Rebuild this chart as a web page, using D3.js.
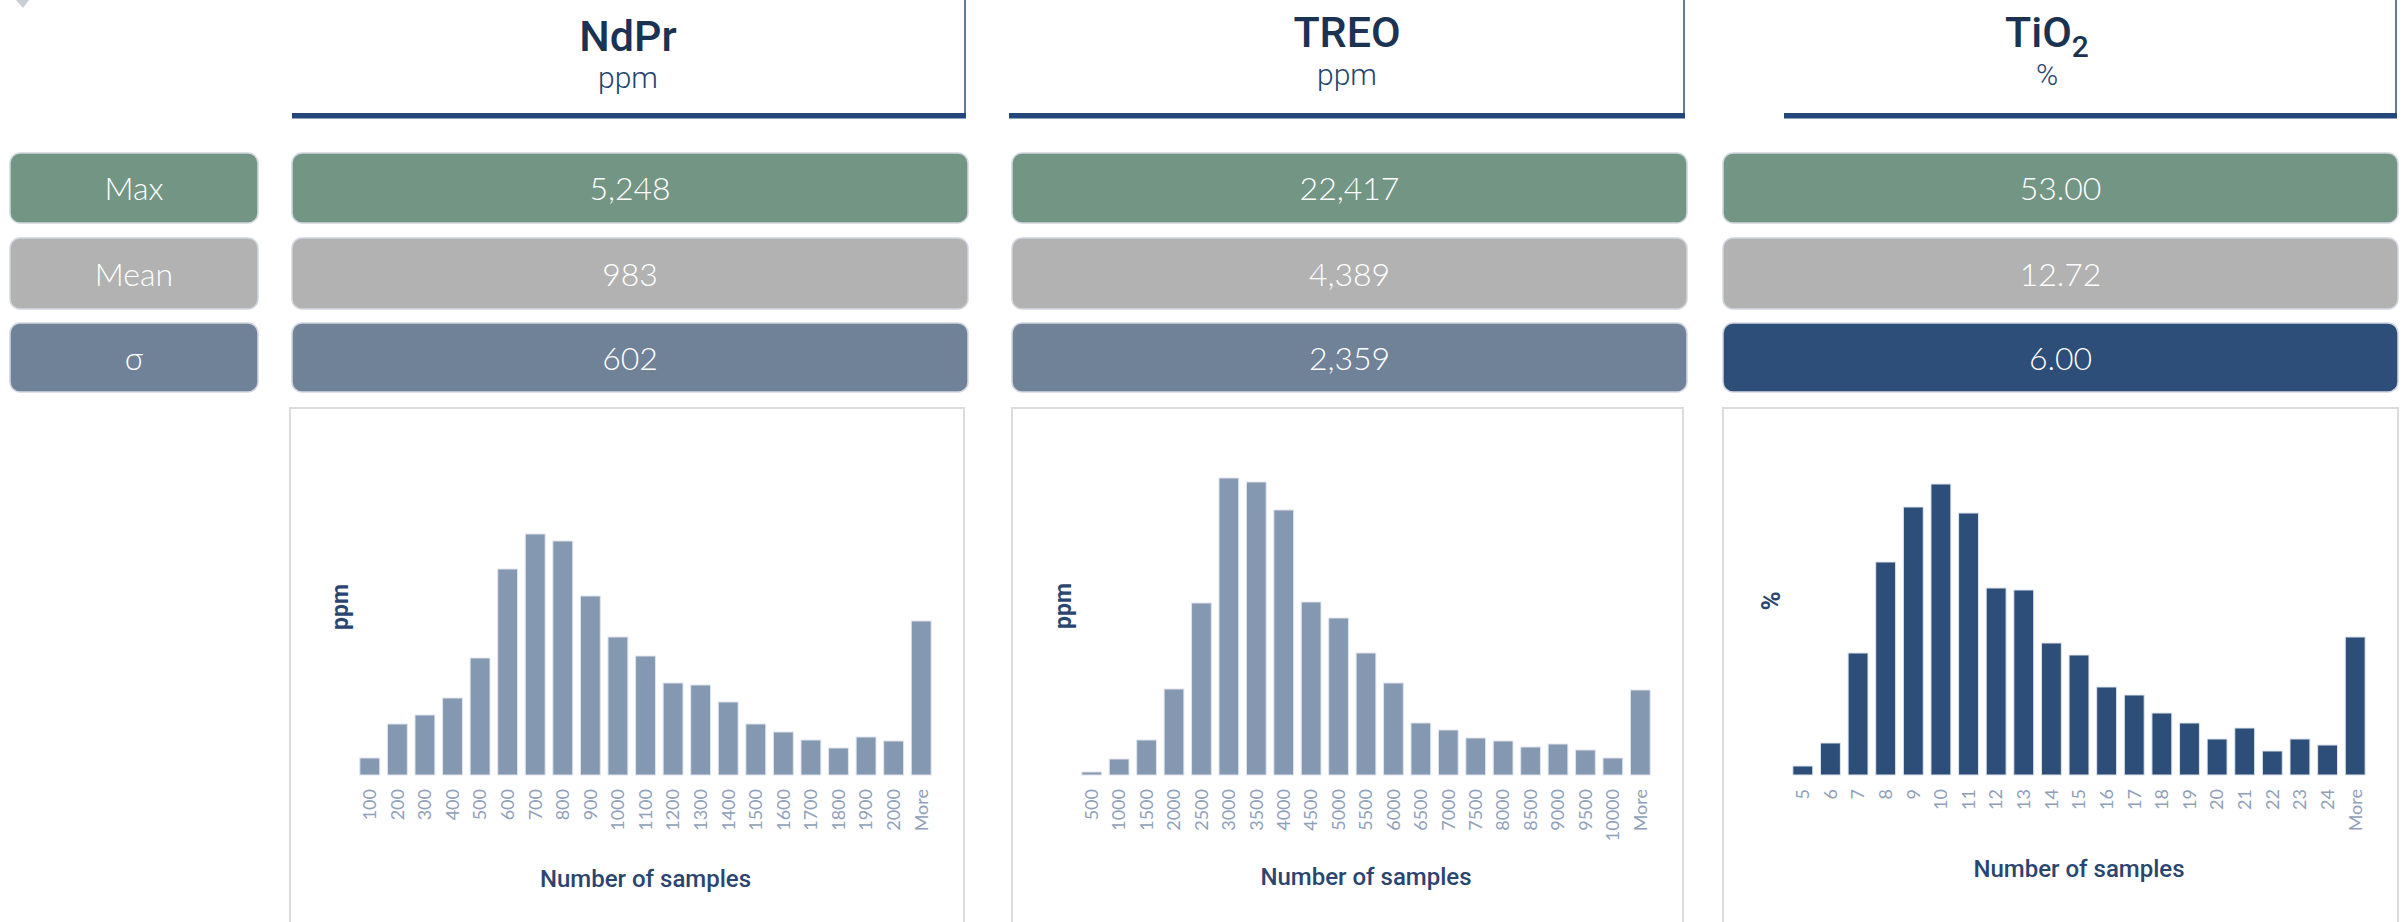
<!DOCTYPE html>
<html>
<head>
<meta charset="utf-8">
<script src="https://cdn.jsdelivr.net/npm/d3@7"></script>
<style>
  html, body { margin: 0; padding: 0; background: #fff; }
  svg { display: block; }
</style>
</head>
<body>
<svg id="chart"></svg>
<script>
const elements = ["NdPr", "TREO", "TiO"];
const subscripts = ["", "", "2"];
const units = ["ppm", "ppm", "%"];
const statLabels = ["Max", "Mean", "σ"];
const maxValues = [5248, 22417, 53.00];
const meanValues = [983, 4389, 12.72];
const sigmaValues = [602, 2359, 6.00];

const ndprBins = ["100", "200", "300", "400", "500", "600", "700", "800", "900", "1000", "1100",
  "1200", "1300", "1400", "1500", "1600", "1700", "1800", "1900", "2000", "More"];
const ndprCounts = [17, 51, 60, 77, 117, 206, 241, 234, 179, 138, 119, 92, 90, 73, 51, 43, 35, 27, 38, 34, 154];

const treoBins = ["500", "1000", "1500", "2000", "2500", "3000", "3500", "4000", "4500", "5000", "5500",
  "6000", "6500", "7000", "7500", "8000", "8500", "9000", "9500", "10000", "More"];
const treoCounts = [3, 16, 35, 86, 172, 297, 293, 265, 173, 157, 122, 92, 52, 45, 37, 34, 28, 31, 25, 17, 85];

const tio2Bins = ["5", "6", "7", "8", "9", "10", "11", "12", "13", "14", "15", "16", "17", "18", "19",
  "20", "21", "22", "23", "24", "More"];
const tio2Counts = [9, 32, 122, 213, 268, 291, 262, 187, 185, 132, 120, 88, 80, 62, 52, 36, 47, 24, 36, 30, 138];

const yAxisTitles = ["ppm", "ppm", "%"];
const xAxisTitle = "Number of samples";

// styling / layout
const width = 2407, height = 922;
const navy = "#1b3252";
const rowColors = [
  ["#739684", "#739684", "#739684"],
  ["#b1b2b1", "#b1b2b1", "#b1b2b1"],
  ["#708298", "#708298", "#2d4e78"]
];
const barColors = ["#8598b1", "#8598b1", "#2d4e78"];
const statFormats = [d3.format(","), d3.format(","), d3.format(".2f")];
const rows = [[153, 223], [238, 309], [323, 392]];
const labelBox = [10, 258];
const cols = [
  { box: [292, 968], head: [292, 966], titleX: 628, titleY: 51, unitY: 88, panel: [290, 964], yTitle: [340, 607], xTitleY: 887 },
  { box: [1012, 1687], head: [1009, 1685], titleX: 1347, titleY: 47, unitY: 85, panel: [1012, 1683], yTitle: [1063, 606], xTitleY: 885 },
  { box: [1723, 2398], head: [1784, 2397], titleX: 2047, titleY: 47, unitY: 85, panel: [1723, 2398], yTitle: [1771, 601], xTitleY: 877 }
];
const baseline = 775;
const plotTop = 475;

const svg = d3.select("#chart").attr("width", width).attr("height", height);

// small cut-off icon in the corner
svg.append("path")
  .attr("d", "M16,0 L29,0 L23,8 Z")
  .attr("fill", "#c9cdd5");

// headers
cols.forEach((c, i) => {
  svg.append("line")
    .attr("x1", c.head[1] - 1).attr("x2", c.head[1] - 1)
    .attr("y1", 0).attr("y2", 116)
    .attr("stroke", "#2d4e78").attr("stroke-width", 1.5);
  svg.append("rect")
    .attr("x", c.head[0]).attr("y", 113)
    .attr("width", c.head[1] - c.head[0]).attr("height", 5.5)
    .attr("fill", "#23477a");

  const t = svg.append("text")
    .attr("x", c.titleX).attr("y", c.titleY)
    .attr("text-anchor", "middle")
    .attr("font-family", "Roboto, sans-serif")
    .attr("font-weight", 500)
    .attr("font-size", 43)
    .attr("fill", navy)
    .text(elements[i]);
  if (subscripts[i]) {
    t.append("tspan").attr("dy", 10).attr("font-size", 30).text(subscripts[i]);
  }

  svg.append("text")
    .attr("x", c.titleX).attr("y", c.unitY)
    .attr("text-anchor", "middle")
    .attr("font-family", "Roboto, sans-serif")
    .attr("font-weight", 300)
    .attr("font-size", 30)
    .attr("fill", "#23456e")
    .text(units[i]);
});

// stats boxes
const statValues = [maxValues, meanValues, sigmaValues];
const statFont = "Lato, 'Open Sans', sans-serif";

rows.forEach((r, ri) => {
  svg.append("rect")
    .attr("x", labelBox[0]).attr("y", r[0])
    .attr("width", labelBox[1] - labelBox[0]).attr("height", r[1] - r[0])
    .attr("rx", 10)
    .attr("fill", rowColors[ri][0])
    .attr("stroke", "#d3d6e0").attr("stroke-width", 1.5);
  svg.append("text")
    .attr("x", (labelBox[0] + labelBox[1]) / 2).attr("y", (r[0] + r[1]) / 2 + 12)
    .attr("text-anchor", "middle")
    .attr("font-family", statFont).attr("font-weight", 300).attr("font-size", 32)
    .attr("fill", "#fff")
    .text(statLabels[ri]);

  cols.forEach((c, ci) => {
    svg.append("rect")
      .attr("x", c.box[0]).attr("y", r[0])
      .attr("width", c.box[1] - c.box[0]).attr("height", r[1] - r[0])
      .attr("rx", 10)
      .attr("fill", rowColors[ri][ci])
      .attr("stroke", "#d3d6e0").attr("stroke-width", 1.5);
    svg.append("text")
      .attr("x", (c.box[0] + c.box[1]) / 2).attr("y", (r[0] + r[1]) / 2 + 12)
      .attr("text-anchor", "middle")
      .attr("font-family", statFont).attr("font-weight", 300).attr("font-size", 32)
      .attr("fill", "#fff")
      .text(statFormats[ci](statValues[ri][ci]));
  });
});

// histograms
const histograms = [
  { bins: ndprBins, counts: ndprCounts },
  { bins: treoBins, counts: treoCounts },
  { bins: tio2Bins, counts: tio2Counts }
];

histograms.forEach((h, i) => {
  const c = cols[i];
  const data = h.bins.map((bin, k) => ({ bin, count: h.counts[k] }));

  svg.append("rect")
    .attr("x", c.panel[0]).attr("y", 408)
    .attr("width", c.panel[1] - c.panel[0]).attr("height", 600)
    .attr("fill", "none")
    .attr("stroke", "#dcdcdc").attr("stroke-width", 2);

  const x = d3.scaleBand()
    .domain(h.bins)
    .range([c.panel[0] + 66, c.panel[1] - 29])
    .paddingInner(0.28)
    .paddingOuter(0.14);

  const y = d3.scaleLinear()
    .domain([0, 300])
    .range([baseline, plotTop]);

  svg.append("g")
    .selectAll("rect")
    .data(data)
    .join("rect")
    .attr("x", (d) => x(d.bin))
    .attr("y", (d) => y(d.count))
    .attr("width", x.bandwidth())
    .attr("height", (d) => baseline - y(d.count))
    .attr("fill", barColors[i])
    .attr("stroke", "#dfe4ec")
    .attr("stroke-width", 1);

  const axis = svg.append("g")
    .attr("transform", `translate(0,${baseline})`)
    .call(d3.axisBottom(x).tickSize(0));
  axis.select(".domain").remove();
  axis.selectAll("text")
    .attr("transform", "rotate(-90)")
    .attr("text-anchor", "end")
    .attr("x", -14)
    .attr("y", 0)
    .attr("dy", "0.35em")
    .attr("font-family", "Lato, sans-serif")
    .attr("font-size", 18)
    .attr("fill", "#8fa0b9");

  svg.append("text")
    .attr("transform", `translate(${c.yTitle[0]},${c.yTitle[1]}) rotate(-90)`)
    .attr("text-anchor", "middle")
    .attr("dy", "0.35em")
    .attr("font-family", "Roboto, sans-serif")
    .attr("font-weight", 700)
    .attr("font-size", i === 2 ? 26 : 23)
    .attr("fill", "#2a4670")
    .text(yAxisTitles[i]);

  svg.append("text")
    .attr("x", (x.range()[0] + x.range()[1]) / 2)
    .attr("y", c.xTitleY)
    .attr("text-anchor", "middle")
    .attr("font-family", "Roboto, sans-serif")
    .attr("font-weight", 500)
    .attr("font-size", 24)
    .attr("fill", "#2a4670")
    .text(xAxisTitle);
});
</script>
</body>
</html>
